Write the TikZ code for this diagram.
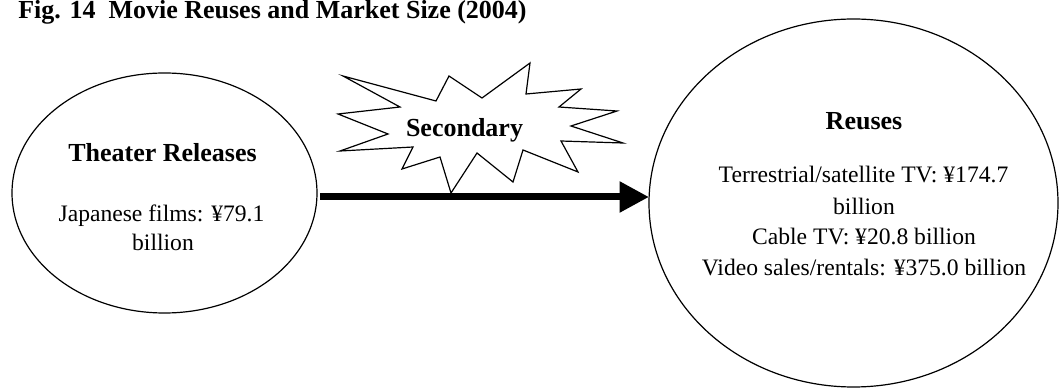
\documentclass[tikz,border=0pt]{standalone}
\usepackage{fontspec}
\setmainfont{Liberation Serif}
\usetikzlibrary{shapes.geometric,arrows.meta}
\tikzset{
  bubble/.style={draw=black, line width=0.9pt, ellipse, inner sep=0pt, outer sep=0pt},
  txt/.style={font=\fontsize{17.7}{21}\selectfont, anchor=base, inner sep=0pt},
  btxt/.style={txt, font=\fontsize{19.5}{22.5}\selectfont\bfseries},
  flow/.style={line width=5.25pt, -{Triangle[length=22pt,width=22pt]}},
  burst/.style={draw=black, line width=0.9pt, fill=white, line join=miter}
}
\begin{document}
\begin{tikzpicture}[x=0.75pt,y=-0.75pt]
\useasboundingbox (0,0) rectangle (1060,388);
% title
\node[btxt, anchor=base west] (title) at (18,19) {Fig. 14\ \ Movie Reuses and Market Size (2004)};
% ellipses
\node[bubble, minimum width=228.75pt, minimum height=180pt] (L) at (164.5,193) {};
\node[bubble, minimum width=306.75pt, minimum height=276pt] (R) at (853.5,203) {};
% arrow
\path (L.east) ++(3,4) coordinate (a0);
\draw[flow] (a0) -- (a0 -| R.west);
% burst
\draw[burst] (343,76) -- (400,107) -- (338,114) -- (388,134) -- (340,151) -- (413,147)
  -- (402,169) -- (440,157) -- (451,193) -- (477,153) -- (513,182) -- (523,150)
  -- (578,172) -- (561,141) -- (623,143) -- (571,126) -- (617,111) -- (559,107)
  -- (581,89) -- (526,94) -- (530,63) -- (482,98) -- (449,76) -- (436,101) -- cycle;
\node[btxt] (sec) at (464.5,137) {Secondary};
% left texts
\node[btxt] (lt1) at (162.5,162) {Theater Releases};
\node[txt] (lt2) at (161.5,222) {Japanese films: ¥79.1};
\node[txt] (lt3) at (163,251) {billion};
% right texts
\node[btxt] (rt1) at (864,130) {Reuses};
\node[txt] (rt2) at (863.5,183) {Terrestrial/satellite TV: ¥174.7};
\node[txt] (rt3) at (864,215) {billion};
\node[txt] (rt4) at (864,245) {Cable TV: ¥20.8 billion};
\node[txt] (rt5) at (864,276) {Video sales/rentals: ¥375.0 billion};
\end{tikzpicture}
\end{document}
